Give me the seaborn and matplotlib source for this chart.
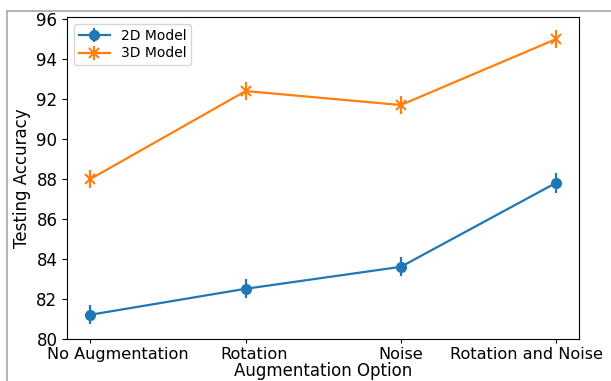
import matplotlib
matplotlib.use("Agg")
import matplotlib.pyplot as plt
from matplotlib.lines import Line2D
from matplotlib.container import ErrorbarContainer
from matplotlib.transforms import ScaledTranslation
import seaborn as sns
import numpy as np

# data
options = ["No Augmentation", "Rotation", "Noise", "Rotation and Noise"]
acc_2d = [81.2, 82.5, 83.6, 87.8]
err_2d = [0.48, 0.48, 0.48, 0.48]
acc_3d = [88.0, 92.4, 91.7, 95.0]
err_3d = [0.44, 0.44, 0.43, 0.45]
models = ["2D Model", "3D Model"]

palette = sns.color_palette("tab10")
colors = [palette[0], palette[1]]
markers = ["o", "x"]

fig = plt.figure(figsize=(6.11, 3.81), dpi=100)
ax = fig.add_axes([0.110, 0.111, 0.838, 0.844])

pos = np.arange(len(options))
handles = []
for name, acc, err, c, m in zip(models, [acc_2d, acc_3d], [err_2d, err_3d], colors, markers):
    sns.lineplot(x=options, y=acc, ax=ax, color=c, marker=m, markersize=6.5,
                 markeredgecolor=c, markerfacecolor=c, markeredgewidth=1.5,
                 linewidth=1.6, sort=False)
    line = ax.get_lines()[-1]
    eb = ax.errorbar(pos, acc, yerr=err, fmt="none", ecolor=c, elinewidth=1.6)
    handles.append(ErrorbarContainer((line, eb.lines[1], eb.lines[2]),
                                     has_xerr=False, has_yerr=True))

ax.set_xlim(-0.15, 3.15)
ax.set_ylim(80, 96.1)
ax.set_yticks(np.arange(80, 97, 2))
ax.set_xticks(pos)
ax.set_xticklabels(options)
ax.tick_params(labelsize=12)
ax.tick_params(axis="x", length=3, pad=3.3, labelsize=11.6)

# the reference's tick labels sit shifted so the outer ones stay inside
shifts = [27, 8, 0, -29]
for lab, dx in zip(ax.get_xticklabels(), shifts):
    lab.set_transform(lab.get_transform() + ScaledTranslation(dx / 100, 0, fig.dpi_scale_trans))

ax.set_xlabel("Augmentation Option", fontsize=12, labelpad=-0.5)
ax.set_ylabel("Testing Accuracy", fontsize=12)

ax.legend(handles, models, loc="upper left", fontsize=10,
          labelspacing=0.25, borderpad=0.35, handlelength=2.2)

# screenshot frame (left and top edges)
fig.add_artist(Line2D([0.0115, 0.0115], [0, 0.971], color="#a8a8a8", lw=1.2,
                      transform=fig.transFigure))
fig.add_artist(Line2D([0.0115, 1], [0.971, 0.971], color="#a8a8a8", lw=1.2,
                      transform=fig.transFigure))

fig.savefig("out.png", dpi=100)
